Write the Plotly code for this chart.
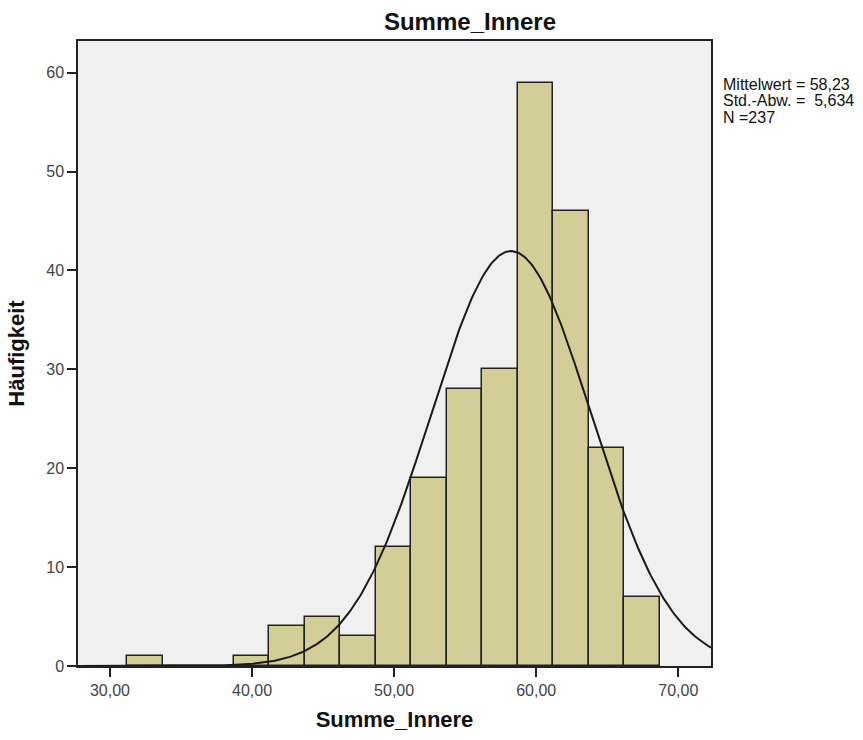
import numpy as np
import plotly.graph_objects as go

# Histogram data (bin start, width, counts)
bin_start = 31.2
bin_width = 2.5
counts = [1, 0, 0, 1, 4, 5, 3, 12, 19, 28, 30, 59, 46, 22, 7]

mean_val = 58.23
sd_val = 5.634
n_val = 237

x_tick_vals = [30, 40, 50, 60, 70]
x_tick_text = ["30,00", "40,00", "50,00", "60,00", "70,00"]
y_tick_vals = [0, 10, 20, 30, 40, 50, 60]

stat_lines = [
    "Mittelwert = 58,23",
    "Std.-Abw. =  5,634",
    "N =237",
]

x_range = [27.75, 72.3]
y_range = [0, 63.2]

centers = [bin_start + bin_width * (i + 0.5) for i in range(len(counts))]

fig = go.Figure()
fig.add_trace(go.Bar(
    x=centers, y=counts, width=[bin_width] * len(counts),
    marker=dict(color="#D3CE97", line=dict(color="#222222", width=1.5)),
    hoverinfo="x+y", showlegend=False,
))

# Normal curve from the stated mean / SD, scaled to counts
xs = np.linspace(x_range[0], x_range[1], 400)
ys = n_val * bin_width * np.exp(-0.5 * ((xs - mean_val) / sd_val) ** 2) / (sd_val * np.sqrt(2 * np.pi))
fig.add_trace(go.Scatter(x=xs, y=ys, mode="lines",
                         line=dict(color="#1a1a1a", width=2), showlegend=False))

font_fam = "Arial, Liberation Sans, sans-serif"
fig.update_layout(
    width=863, height=740,
    margin=dict(l=78, r=152, t=41, b=72),
    paper_bgcolor="white", plot_bgcolor="#F0F0F0",
    bargap=0,
    font=dict(family=font_fam, color="#333333", size=16),
    title=dict(text="<b>Summe_Innere</b>", x=470 / 863, xanchor="center",
               y=1 - 22 / 740, yanchor="middle",
               font=dict(size=24, color="#111111", family=font_fam)),
    xaxis=dict(range=x_range, tickvals=x_tick_vals, ticktext=x_tick_text,
               ticks="outside", ticklen=9, tickwidth=1.5, tickcolor="#222222",
               showline=True, linecolor="#222222", linewidth=1.5, mirror=True,
               showgrid=False, zeroline=False,
               title=dict(text="<b>Summe_Innere</b>", standoff=14,
                          font=dict(size=22, color="#111111")),
               tickfont=dict(size=16, color="#444444")),
    yaxis=dict(range=y_range, tickvals=y_tick_vals,
               ticks="outside", ticklen=9, tickwidth=1.5, tickcolor="#222222",
               showline=True, linecolor="#222222", linewidth=1.5, mirror=True,
               showgrid=False, zeroline=False,
               title=dict(text="<b>Häufigkeit</b>", standoff=16,
                          font=dict(size=22, color="#111111")),
               tickfont=dict(size=16, color="#444444")),
)

for i, line in enumerate(stat_lines):
    fig.add_annotation(
        xref="paper", yref="paper", x=1, xshift=10, y=1, yshift=-(43 + i * 16.5),
        xanchor="left", yanchor="middle", align="left", showarrow=False,
        text=line,
        font=dict(size=16, color="#111111", family=font_fam),
    )

fig.write_html("out.html")
